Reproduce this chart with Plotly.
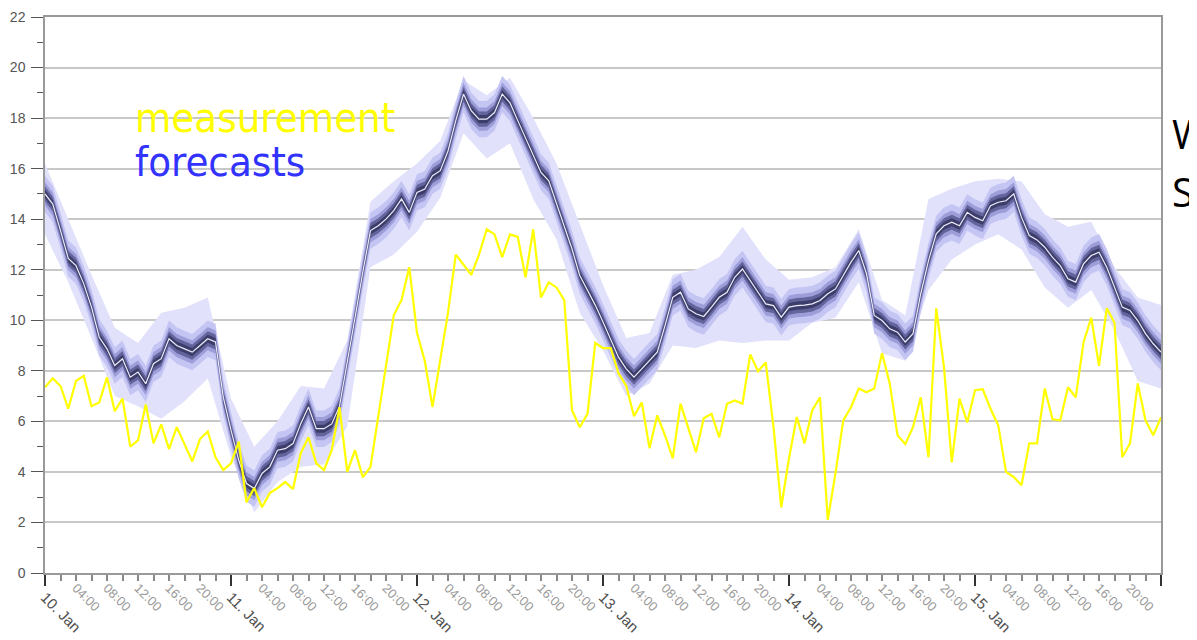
import plotly.graph_objects as go
import pandas as pd

# ---------------- data ----------------
start = pd.Timestamp("2015-01-10 00:00")
n_hours = 145  # hourly values, 10 Jan 00:00 .. 16 Jan 00:00

measurement = [
    7.35, 7.7, 7.4, 6.5, 7.6, 7.8, 6.6, 6.75, 7.74, 6.4, 6.9, 5.0, 5.25, 6.67, 5.13, 5.88,
    4.9, 5.77, 5.1, 4.42, 5.3, 5.6, 4.58, 4.07, 4.34, 5.2, 2.8, 3.36, 2.6, 3.16, 3.36, 3.6,
    3.32, 4.74, 5.37, 4.34, 4.07, 4.86, 6.56, 4.0, 4.86, 3.79, 4.2, 6.16, 8.14, 10.2, 10.8, 12.1,
    9.5, 8.4, 6.57, 8.4, 10.3, 12.6, 12.2, 11.8, 12.6, 13.6, 13.4, 12.5, 13.4, 13.3, 11.7, 13.6,
    10.9, 11.5, 11.3, 10.8, 6.44, 5.77, 6.3, 9.1, 8.9, 8.9, 7.9, 7.4, 6.2, 6.75, 4.94, 6.24,
    5.45, 4.54, 6.7, 5.77, 4.78, 6.12, 6.3, 5.37, 6.7, 6.83, 6.7, 8.65, 7.98, 8.33, 5.77, 2.6,
    4.54, 6.17, 5.13, 6.44, 6.95, 2.1, 3.95, 6.04, 6.56, 7.3, 7.15, 7.3, 8.7, 7.5, 5.45, 5.1,
    5.77, 6.95, 4.58, 10.47, 8.14, 4.38, 6.9, 5.96, 7.23, 7.27, 6.5, 5.84, 4.0, 3.8, 3.47, 5.13,
    5.13, 7.3, 6.08, 6.04, 7.35, 6.95, 9.12, 10.1, 8.2, 10.47, 9.9, 4.58, 5.13, 7.5, 6.04, 5.45,
    6.17,
]

forecast_median = [
    15.0, 14.6, 13.55, 12.45, 12.16, 11.44, 10.52, 9.33, 8.87, 8.21, 8.48, 7.75, 7.95, 7.49, 8.28, 8.48,
    9.27, 9.0, 8.87, 8.74, 9.0, 9.27, 9.14, 6.96, 5.65, 4.46, 3.54, 3.34, 3.94, 4.2, 4.86, 4.92,
    5.12, 5.91, 6.57, 5.71, 5.71, 5.9, 6.6, 8.3, 10.1, 11.9, 13.55, 13.74, 14.0, 14.34, 14.8, 14.27,
    15.06, 15.19, 15.72, 15.92, 16.7, 17.9, 18.95, 18.29, 17.96, 17.96, 18.22, 18.95, 18.6, 17.9, 17.23, 16.51,
    15.85, 15.52, 14.6, 13.68, 12.82, 11.77, 11.18, 10.6, 9.93, 9.2, 8.54, 8.08, 7.75, 8.08, 8.41, 8.74,
    9.79, 10.91, 11.11, 10.45, 10.26, 10.15, 10.52, 10.91, 11.11, 11.7, 12.03, 11.57, 11.11, 10.65, 10.58, 10.12,
    10.52, 10.58, 10.6, 10.65, 10.78, 11.05, 11.24, 11.77, 12.3, 12.76, 11.84, 10.19, 9.99, 9.66, 9.53, 9.14,
    9.47, 11.05, 12.36, 13.42, 13.74, 13.88, 13.74, 14.27, 14.07, 13.94, 14.53, 14.67, 14.73, 15.0, 14.07, 13.35,
    13.18, 12.89, 12.49, 12.16, 11.64, 11.51, 12.23, 12.56, 12.69, 12.1, 11.31, 10.52, 10.39, 9.99, 9.47, 9.07,
    8.74,
]

# outer forecast envelope, read every 3 hours
band_step_hours = 3
outer_upper = [16.2, 14.0, 11.8, 9.7, 9.1, 10.3, 10.5, 10.9, 6.9, 5.0, 6.0, 7.4, 7.3, 9.2, 14.7, 15.5,
               16.2, 17.1, 19.5, 18.9, 19.6, 18.0, 16.2, 13.8, 11.4, 9.3, 9.5, 11.8, 12.0, 12.5, 13.7, 12.4,
               11.6, 11.7, 12.1, 13.6, 10.8, 10.2, 14.8, 15.2, 15.5, 15.6, 15.5, 14.2, 13.7, 13.9, 12.1, 10.9,
               10.6]
outer_lower = [13.4, 11.5, 9.3, 7.0, 6.6, 6.1, 6.8, 7.7, 4.6, 2.4, 3.6, 4.2, 4.3, 5.8, 12.1, 12.6,
               13.5, 14.85, 17.4, 16.4, 17.0, 14.8, 13.2, 10.3, 8.8, 7.0, 7.5, 9.0, 8.9, 9.2, 9.1, 9.2,
               9.2, 9.9, 10.1, 11.5, 8.7, 8.4, 11.2, 12.4, 13.0, 13.4, 12.8, 11.3, 10.5, 11.2, 9.6, 7.6,
               7.3]

# inner quantile bands: half-widths around the median (value units)
inner_halfwidths = [0.72, 0.46, 0.30, 0.16]
inner_colors = ["#c5c5f4", "#9d9dda", "#64649c", "#3d3d6c"]

day_labels = ["10. Jan", "11. Jan", "12. Jan", "13. Jan", "14. Jan", "15. Jan", "16. Jan"]
hour_labels = ["04:00", "08:00", "12:00", "16:00", "20:00"]

assert len(measurement) == n_hours and len(forecast_median) == n_hours
assert len(outer_upper) == len(outer_lower) == 49

# ---------------- figure ----------------
times = [start + pd.Timedelta(hours=h) for h in range(n_hours)]
band_times = [start + pd.Timedelta(hours=h) for h in range(0, n_hours, band_step_hours)]
end = times[-1]

fig = go.Figure()

fig.add_trace(go.Scatter(x=band_times, y=outer_lower, mode="lines", line=dict(width=0),
                         hoverinfo="skip", showlegend=False))
fig.add_trace(go.Scatter(x=band_times, y=outer_upper, mode="lines", line=dict(width=0),
                         fill="tonexty", fillcolor="#e1e1fb", hoverinfo="skip", showlegend=False))

for hw, col in zip(inner_halfwidths, inner_colors):
    fig.add_trace(go.Scatter(x=times, y=[m - hw for m in forecast_median], mode="lines",
                             line=dict(width=0), hoverinfo="skip", showlegend=False))
    fig.add_trace(go.Scatter(x=times, y=[m + hw for m in forecast_median], mode="lines",
                             line=dict(width=0), fill="tonexty", fillcolor=col,
                             hoverinfo="skip", showlegend=False))

fig.add_trace(go.Scatter(x=times, y=forecast_median, mode="lines", name="forecasts",
                         line=dict(color="#ececfa", width=1.2), showlegend=False))

fig.add_trace(go.Scatter(x=times, y=measurement, mode="lines", name="measurement", xaxis="x2",
                         line=dict(color="#ffff00", width=2.2), showlegend=False))

day_ticks = [start + pd.Timedelta(days=d) for d in range(len(day_labels))]
hour_ticks, hour_text = [], []
for d in range(len(day_labels) - 1):
    for i, lab in enumerate(hour_labels):
        hour_ticks.append(start + pd.Timedelta(days=d, hours=4 * (i + 1)))
        hour_text.append(lab)

ann_font = "Liberation Sans Narrow, DejaVu Sans Condensed, sans-serif"

fig.update_layout(
    width=1189, height=632,
    margin=dict(l=37, r=36, t=9, b=67, autoexpand=False),
    plot_bgcolor="white", paper_bgcolor="white",
    showlegend=False,
    xaxis=dict(
        type="date", range=[start, end], tickmode="array", tickvals=day_ticks, ticktext=day_labels,
        tickangle=45, ticks="outside", ticklen=11, tickwidth=1.5, tickcolor="#333",
        showline=True, linecolor="#999", linewidth=1.5, mirror=True, showgrid=False, zeroline=False,
        tickfont=dict(family="Liberation Sans", size=15, color="#505050"),
        ticklabelstandoff=-3,
        minor=dict(dtick=2 * 3600 * 1000, ticks="outside", ticklen=6, tickcolor="#888", showgrid=False),
    ),
    xaxis2=dict(
        type="date", overlaying="x", matches="x", anchor="y", side="bottom",
        tickmode="array", tickvals=hour_ticks, ticktext=hour_text, tickangle=45, ticks="",
        showline=False, showgrid=False, zeroline=False,
        tickfont=dict(family="Liberation Sans", size=13, color="#9a9a9a"),
        ticklabelstandoff=4,
    ),
    yaxis=dict(
        range=[0, 22], tick0=0, dtick=2, ticks="outside", ticklen=12, tickcolor="#555",
        showline=True, linecolor="#999", linewidth=1.5, mirror=True,
        showgrid=True, gridcolor="#c8c8c8", gridwidth=1.5, zeroline=False,
        tickfont=dict(family="Liberation Sans", size=14, color="#555"),
        ticklabelstandoff=3,
        minor=dict(dtick=1, ticks="outside", ticklen=6, tickcolor="#555", showgrid=False),
    ),
    annotations=[
        dict(text="measurement", xref="paper", yref="paper", x=0.079, y=0.819,
             xanchor="left", yanchor="middle", showarrow=False,
             font=dict(family=ann_font, size=41.5, color="#ffff00")),
        dict(text="forecasts", xref="paper", yref="paper", x=0.079, y=0.74,
             xanchor="left", yanchor="middle", showarrow=False,
             font=dict(family=ann_font, size=41.5, color="#3333ff")),
        dict(text="Wind", xref="paper", yref="paper", x=1.0085, y=0.79,
             xanchor="left", yanchor="middle", showarrow=False,
             font=dict(family="Open Sans", size=40, color="#000000")),
        dict(text="Speed", xref="paper", yref="paper", x=1.0085, y=0.687,
             xanchor="left", yanchor="middle", showarrow=False,
             font=dict(family="Open Sans", size=40, color="#000000")),
    ],
)

fig.write_html("out.html")
